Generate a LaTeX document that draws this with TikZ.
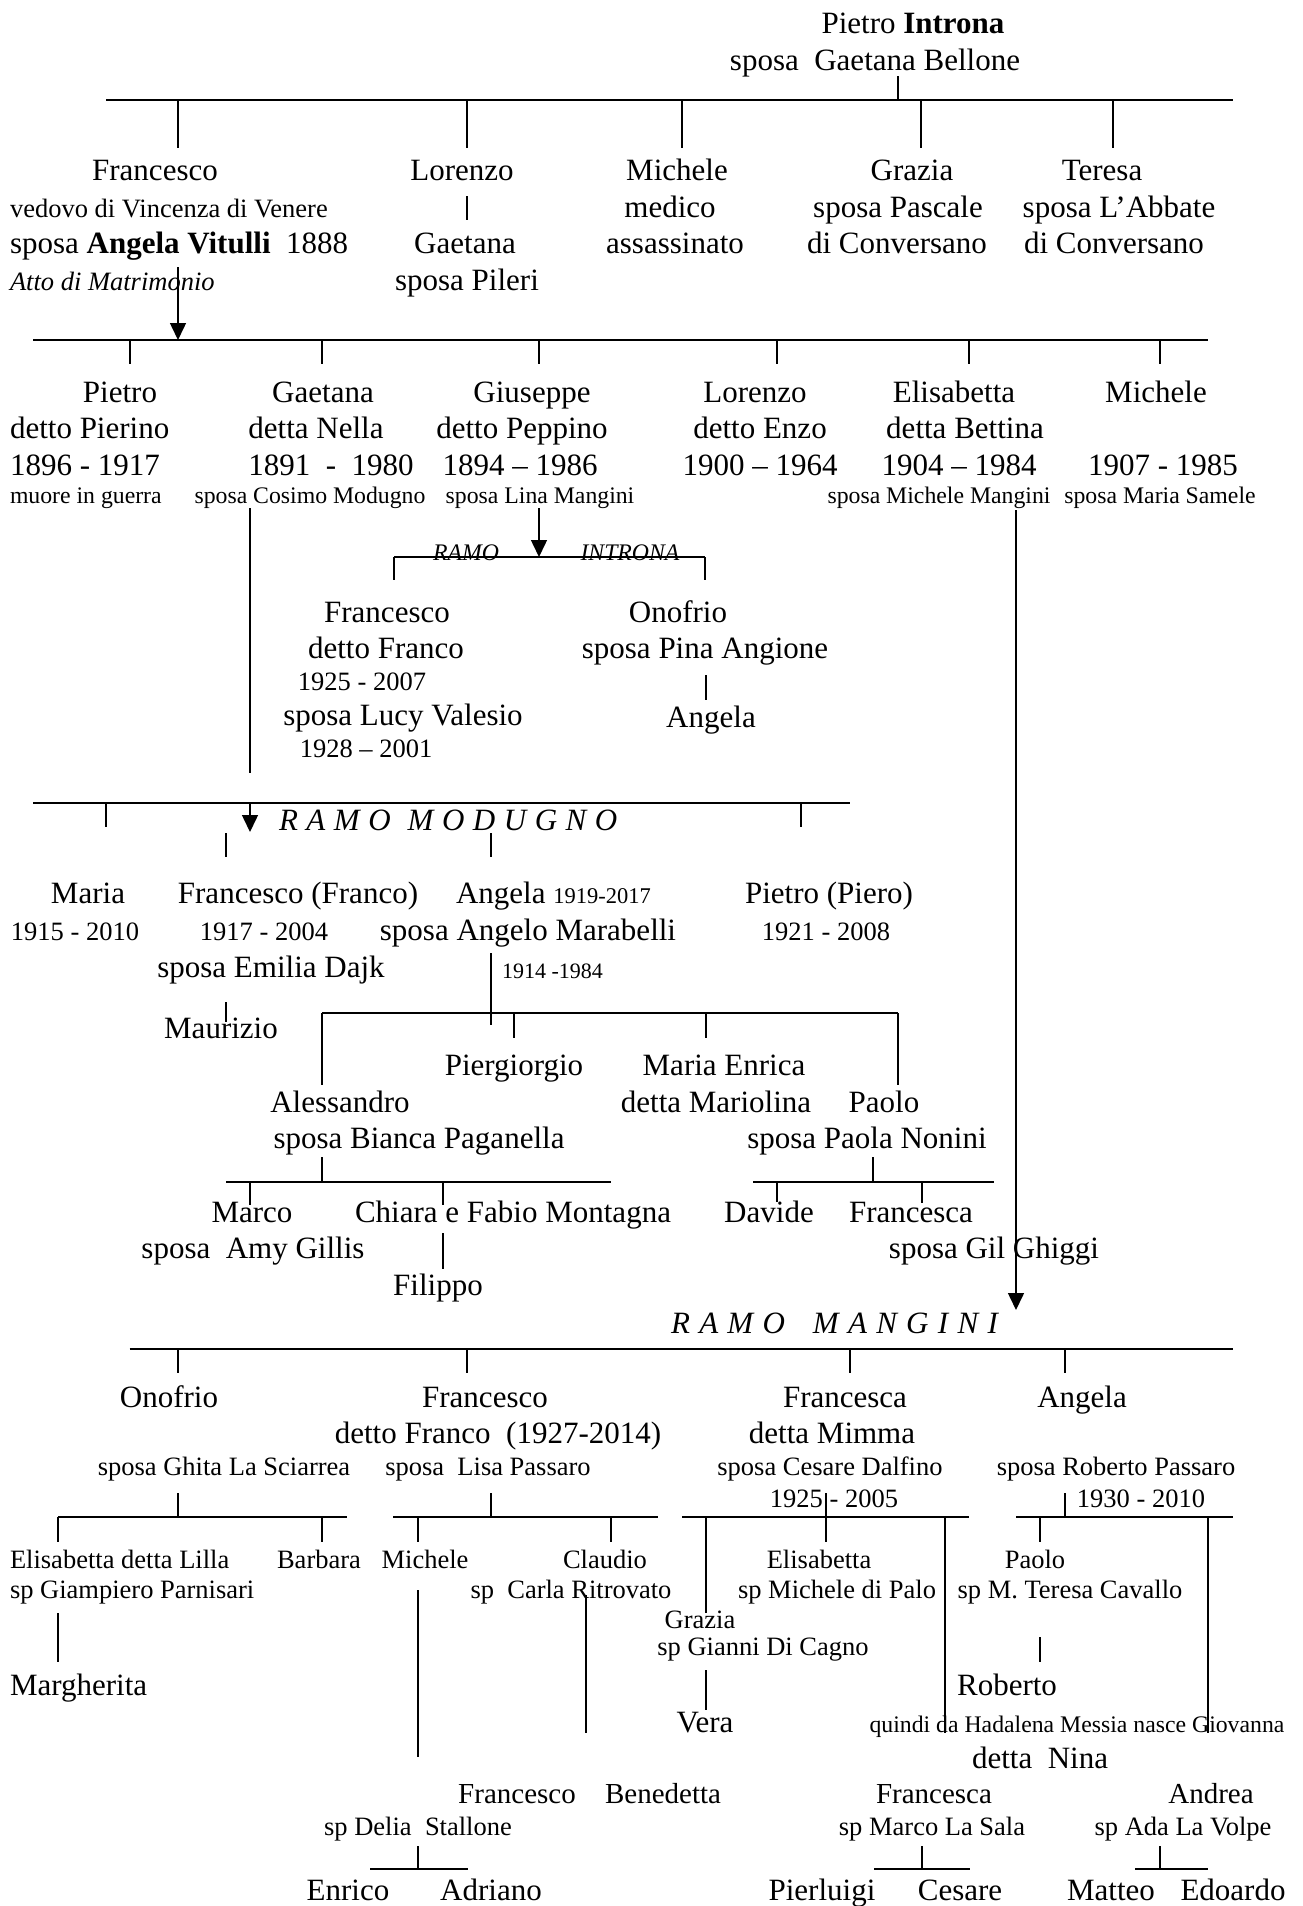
\documentclass[tikz,border=0pt]{standalone}
\usepackage{fontspec}
\setmainfont{Liberation Serif}
\usetikzlibrary{arrows.meta}
\tikzset{
  t/.style={inner sep=0pt, outer sep=0pt, anchor=base},
  big/.style={t, font=\fontsize{12.4}{15}\selectfont},
  mid/.style={t, font=\fontsize{11.6}{14}\selectfont},
  med/.style={t, font=\fontsize{10.6}{13}\selectfont},
  sml/.style={t, font=\fontsize{9.5}{11}\selectfont},
  tny/.style={t, font=\fontsize{8.8}{10}\selectfont},
  tick/.style={line width=0.6pt},
  barline/.style={line width=0.8pt},
  arr/.style={line width=0.6pt, -{Triangle[length=6.8pt,width=6.4pt]}}
}
\newcommand\vlk[4]{\coordinate (#1a) at (#2,#3); \coordinate (#1b) at (#2,#4); \draw[tick] (#1a) -- (#1b);}
\newcommand\fbar[4]{\coordinate (#1l) at (#3,#2); \coordinate (#1r) at (#4,#2); \draw[barline] (#1l) -- (#1r);}
\newcommand\varr[4]{\coordinate (#1a) at (#2,#3); \coordinate (#1b) at (#2,#4); \draw[arr] (#1a) -- (#1b);}
\begin{document}
\begin{tikzpicture}[x=0.4pt,y=-0.4pt]
\useasboundingbox (0,0) rectangle (1303,1906);

% ---------- generation 0
\node[big] (pietro0) at (913,33) {Pietro \textbf{Introna}};
\node[big] (bellone) at (875,70) {sposa\ \ Gaetana Bellone};
\vlk{v0}{898}{76}{100}
\fbar{b0}{100}{106}{1233}
\vlk{t01}{178}{100}{148}
\vlk{t02}{467}{100}{148}
\vlk{t03}{682}{100}{148}
\vlk{t04}{921}{100}{148}
\vlk{t05}{1113}{100}{148}

% ---------- generation 1
\node[big] (fra1) at (155,180) {Francesco};
\node[med,anchor=base west] (fra1b) at (10,217) {vedovo di Vincenza di Venere};
\node[big,anchor=base west] (fra1c) at (10,253) {sposa \textbf{Angela Vitulli}\ \ 1888};
\node[med,anchor=base west] (fra1d) at (10,290) {\itshape Atto di Matrimonio};
\node[big] (lor1) at (462,180) {Lorenzo};
\vlk{vlor}{467}{196}{220}
\node[big] (lor1b) at (465,253) {Gaetana};
\node[big] (lor1c) at (467,290) {sposa Pileri};
\node[big] (mic1) at (677,180) {Michele};
\node[big] (mic1b) at (670,217) {medico};
\node[big] (mic1c) at (675,253) {assassinato};
\node[big] (gra1) at (912,180) {Grazia};
\node[big] (gra1b) at (898,217) {sposa Pascale};
\node[big] (gra1c) at (897,253) {di Conversano};
\node[big] (ter1) at (1102,180) {Teresa};
\node[big] (ter1b) at (1119,217) {sposa L’Abbate};
\node[big] (ter1c) at (1114,253) {di Conversano};
\varr{afra}{178}{267}{340}

% ---------- generation 2
\fbar{b1}{340}{33}{1208}
\vlk{t11}{130}{340}{364}
\vlk{t12}{322}{340}{364}
\vlk{t13}{539}{340}{364}
\vlk{t14}{777}{340}{364}
\vlk{t15}{969}{340}{364}
\vlk{t16}{1160}{340}{364}

\node[big] (pie2) at (120,402) {Pietro};
\node[big,anchor=base west] (pie2b) at (10,438) {detto Pierino};
\node[big,anchor=base west] (pie2c) at (10,475) {1896 - 1917};
\node[sml,anchor=base west] (pie2d) at (10,503) {muore in guerra};

\node[big] (gae2) at (323,402) {Gaetana};
\node[big] (gae2b) at (316,438) {detta Nella};
\node[big] (gae2c) at (331,475) {1891\ \ -\ \ 1980};
\node[sml] (gae2d) at (310,503) {sposa Cosimo Modugno};

\node[big] (giu2) at (532,402) {Giuseppe};
\node[big] (giu2b) at (522,438) {detto Peppino};
\node[big] (giu2c) at (520,475) {1894 – 1986};
\node[sml] (giu2d) at (540,503) {sposa Lina Mangini};

\node[big] (lor2) at (755,402) {Lorenzo};
\node[big] (lor2b) at (760,438) {detto Enzo};
\node[big] (lor2c) at (760,475) {1900 – 1964};

\node[big] (eli2) at (954,402) {Elisabetta};
\node[big] (eli2b) at (965,438) {detta Bettina};
\node[big] (eli2c) at (959,475) {1904 – 1984};
\node[sml] (eli2d) at (939,503) {sposa Michele Mangini};

\node[big] (mic2) at (1156,402) {Michele};
\node[big] (mic2c) at (1163,475) {1907 - 1985};
\node[sml] (mic2d) at (1160,503) {sposa Maria Samele};

% ---------- ramo Introna
\varr{agiu}{539}{508}{557}
\fbar{bi}{557}{394}{705}
\vlk{ti1}{394}{557}{580}
\vlk{ti2}{705}{557}{580}
\node[sml] (ramoi) at (466,560) {\itshape RAMO};
\node[sml] (intr) at (630,560) {\itshape INTRONA};

\node[big] (fra3) at (387,622) {Francesco};
\node[big] (fra3b) at (386,658) {detto Franco};
\node[med] (fra3c) at (362,690) {1925 - 2007};
\node[big] (fra3d) at (403,725) {sposa Lucy Valesio};
\node[med] (fra3e) at (366,757) {1928 – 2001};
\node[big] (ono3) at (678,622) {Onofrio};
\node[big] (ono3b) at (705,658) {sposa Pina Angione};
\vlk{vono}{706}{675}{700}
\node[big] (ang4) at (711,727) {Angela};

% ---------- ramo Modugno
\vlk{vgae}{250}{508}{773}
\fbar{bm}{803}{33}{850}
\vlk{tm1}{106}{803}{827}
\vlk{tm2}{801}{803}{827}
\varr{amod}{250}{803}{832}
\node[big,anchor=base west] (ramom) at (279,830) {\itshape\spaceskip=0.275em\relax R A M O\ \ M O D U G N O};
\vlk{tm3}{226}{833}{857}
\vlk{tm4}{491}{833}{857}

\node[big] (mar3) at (88,903) {Maria};
\node[med] (mar3b) at (75,940) {1915 - 2010};
\node[big] (frm3) at (298,903) {Francesco (Franco)};
\node[med] (frm3b) at (264,940) {1917 - 2004};
\node[big] (frm3c) at (271,977) {sposa Emilia Dajk};
\node[big,anchor=base west] (anm3) at (456,903) {Angela {\fontsize{9}{10}\selectfont 1919-2017}};
\node[big] (anm3b) at (528,940) {sposa Angelo Marabelli};
\node[tny,anchor=base west] (anm3c) at (502,978) {1914 -1984};
\node[big] (pim3) at (829,903) {Pietro (Piero)};
\node[med] (pim3b) at (826,940) {1921 - 2008};

\vlk{vmau}{226}{1002}{1022}
\node[big] (mau4) at (221,1038) {Maurizio};

\vlk{vang}{491}{953}{1025}
\fbar{ba}{1013}{322}{898}
\vlk{ta1}{322}{1013}{1085}
\vlk{ta2}{898}{1013}{1085}
\vlk{ta3}{514}{1013}{1038}
\vlk{ta4}{706}{1013}{1038}

\node[big] (pg4) at (514,1075) {Piergiorgio};
\node[big] (me4) at (724,1075) {Maria Enrica};
\node[big] (al4) at (340,1112) {Alessandro};
\node[big] (me4b) at (716,1112) {detta Mariolina};
\node[big] (pa4) at (884,1112) {Paolo};
\node[big] (al4b) at (419,1148) {sposa Bianca Paganella};
\node[big] (pa4b) at (867,1148) {sposa Paola Nonini};

\vlk{val}{322}{1157}{1182}
\fbar{bal}{1182}{226}{611}
\vlk{tal1}{250}{1182}{1205}
\vlk{tal2}{443}{1182}{1205}
\vlk{vpa}{873}{1157}{1182}
\fbar{bpa}{1182}{753}{994}
\vlk{tpa1}{777}{1182}{1202}
\vlk{tpa2}{922}{1182}{1203}

\node[big] (mc5) at (252,1222) {Marco};
\node[big] (ch5) at (513,1222) {Chiara e Fabio Montagna};
\node[big] (da5) at (769,1222) {Davide};
\node[big] (fc5) at (911,1222) {Francesca};
\node[big] (mc5b) at (253,1258) {sposa\ \ Amy Gillis};
\node[big] (fc5b) at (994,1258) {sposa Gil Ghiggi};
\vlk{vch}{443}{1233}{1269}
\node[big] (fi6) at (438,1295) {Filippo};

% ---------- ramo Mangini
\varr{aman}{1016}{510}{1310}
\node[big,anchor=base west] (ramog) at (671,1333) {\itshape\spaceskip=0.3em\relax R A M O\ \ \ M A N G I N I};
\fbar{bg}{1349}{129.5}{1233}
\vlk{tg1}{178}{1349}{1373}
\vlk{tg2}{467}{1349}{1373}
\vlk{tg3}{850}{1349}{1373}
\vlk{tg4}{1065}{1349}{1373}

\node[big] (ong) at (169,1407) {Onofrio};
\node[med] (ongb) at (224,1475) {sposa Ghita La Sciarrea};
\node[big] (frg) at (485,1407) {Francesco};
\node[big] (frgb) at (498,1443) {detto Franco\ \ (1927-2014)};
\node[med] (frgc) at (488,1475) {sposa\ \ Lisa Passaro};
\node[big] (fcg) at (845,1407) {Francesca};
\node[big] (fcgb) at (832,1443) {detta Mimma};
\node[med] (fcgc) at (830,1475) {sposa Cesare Dalfino};
\node[med] (fcgd) at (834,1507) {1925 - 2005};
\node[big] (ang) at (1082,1407) {Angela};
\node[med] (angb) at (1116,1475) {sposa Roberto Passaro};
\node[med] (angc) at (1141,1507) {1930 - 2010};

\vlk{vong}{178}{1493}{1517}
\fbar{bong}{1517}{58}{346.5}
\vlk{tong1}{58}{1517}{1542}
\vlk{tong2}{322}{1517}{1542}
\vlk{vfrg}{491}{1493}{1517}
\fbar{bfrg}{1517}{393}{658}
\vlk{tfrg1}{418}{1517}{1542}
\vlk{tfrg2}{611}{1517}{1542}
\vlk{vfcg}{826}{1493}{1542}
\fbar{bfcg}{1517}{682}{969}
\vlk{tfcg1}{706}{1517}{1613}
\vlk{tfcg2}{945}{1517}{1733}
\vlk{vang2}{1065}{1493}{1517}
\fbar{bang}{1517}{1016}{1233}
\vlk{tang1}{1040}{1517}{1542}
\vlk{tang2}{1208}{1517}{1733}

\node[med,anchor=base west] (elg) at (10,1568) {Elisabetta detta Lilla};
\node[med,anchor=base west] (elgb) at (10,1598) {sp Giampiero Parnisari};
\vlk{velg}{58}{1613}{1662}
\node[big,anchor=base west] (marg) at (10,1695) {Margherita};
\node[med] (barg) at (319,1568) {Barbara};
\node[med] (micg) at (425,1568) {Michele};
\vlk{vmicg}{418}{1590}{1757}
\node[med] (clg) at (605,1568) {Claudio};
\node[med] (clgb) at (571,1598) {sp\ \ Carla Ritrovato};
\vlk{vclg}{586}{1595}{1733}
\node[med] (elh) at (819,1568) {Elisabetta};
\node[med] (elhb) at (837,1598) {sp Michele di Palo};
\node[med] (pag) at (1035,1568) {Paolo};
\node[med] (pagb) at (1070,1598) {sp M. Teresa Cavallo};
\vlk{vpag}{1040}{1637}{1662}
\node[big] (rob) at (1007,1695) {Roberto};
\node[med] (grg) at (700,1628) {Grazia};
\node[med] (grgb) at (763,1655) {sp Gianni Di Cagno};
\vlk{vgrg}{706}{1670}{1710}
\node[big] (ver) at (705,1732) {Vera};
\node[sml] (qui) at (1077,1732) {quindi da Hadalena Messia nasce Giovanna};
\node[big] (nin) at (1040,1768) {detta\ \ Nina};

\node[mid] (frh) at (517,1803) {Francesco};
\node[mid] (ben) at (663,1803) {Benedetta};
\node[mid] (fch) at (934,1803) {Francesca};
\node[mid] (and) at (1211,1803) {Andrea};
\node[med] (frhb) at (418,1835) {sp Delia\ \ Stallone};
\node[med] (fchb) at (932,1835) {sp Marco La Sala};
\node[med] (andb) at (1183,1835) {sp Ada La Volpe};
\vlk{vfrh}{418}{1846}{1869}
\fbar{bfrh}{1869}{370}{468}
\vlk{vfch}{922}{1846}{1869}
\fbar{bfch}{1869}{874}{970}
\vlk{vand}{1160}{1846}{1869}
\fbar{band}{1869}{1135}{1208}

\node[big] (enr) at (348,1900) {Enrico};
\node[big] (adr) at (491,1900) {Adriano};
\node[big] (pil) at (822,1900) {Pierluigi};
\node[big] (ces) at (960,1900) {Cesare};
\node[big] (mat) at (1111,1900) {Matteo};
\node[big] (edo) at (1233,1900) {Edoardo};
\end{tikzpicture}
\end{document}
